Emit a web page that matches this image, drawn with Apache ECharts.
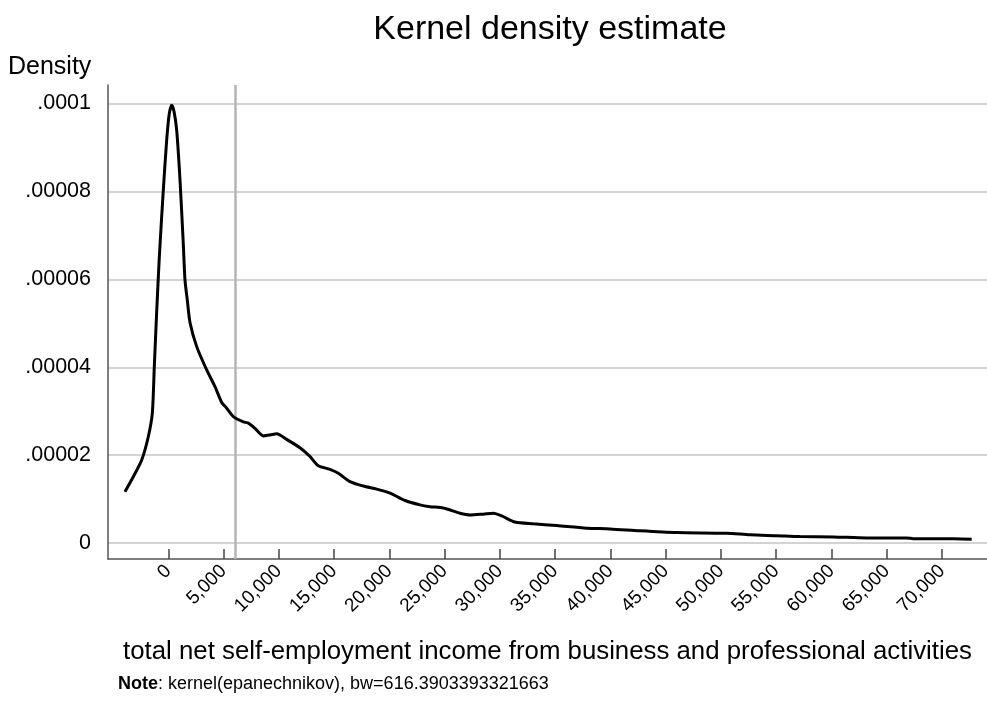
<!DOCTYPE html>
<html>
<head>
<meta charset="utf-8">
<script src="https://cdn.jsdelivr.net/npm/echarts@6/dist/echarts.min.js"></script>
<style>html,body{margin:0;padding:0;background:#fff;}#c{width:987px;height:705px;}</style>
</head>
<body>
<div id="c"></div>
<script>
// Data
const incomeX = [-3920,-3167,-2407,-1810,-1448,-1267,-1050,-814,-452,-145,90,308,516,760,1059,1357,1511,1719,1963,2570,3474,4225,4832,5280,5881,6786,7238,7845,8596,9200,9808,10713,11916,12821,13572,14631,15382,16440,17643,18855,20059,21416,22773,23678,24882,26393,27298,28501,29406,30166,31369,33025,35142,37857,39965,42680,45999,50524,52631,55047,57157,60170,63190,66810,67400,71027,72690];
const densityY = [1.17e-5,1.51e-5,1.89e-5,2.42e-5,2.95e-5,4.01e-5,5.27e-5,6.5e-5,8.03e-5,9.17e-5,9.77e-5,9.96e-5,9.82e-5,9.39e-5,8.26e-5,6.8e-5,5.98e-5,5.53e-5,5.02e-5,4.47e-5,3.94e-5,3.56e-5,3.2e-5,3.07e-5,2.88e-5,2.76e-5,2.73e-5,2.61e-5,2.44e-5,2.46e-5,2.49e-5,2.36e-5,2.17e-5,1.97e-5,1.76e-5,1.68e-5,1.59e-5,1.40e-5,1.30e-5,1.23e-5,1.14e-5,0.97e-5,0.87e-5,0.83e-5,0.80e-5,0.68e-5,0.64e-5,0.66e-5,0.68e-5,0.62e-5,0.48e-5,0.44e-5,0.40e-5,0.34e-5,0.325e-5,0.28e-5,0.24e-5,0.227e-5,0.19e-5,0.17e-5,0.15e-5,0.143e-5,0.12e-5,0.12e-5,0.10e-5,0.098e-5,0.09e-5];
const xTickValues = [0,5000,10000,15000,20000,25000,30000,35000,40000,45000,50000,55000,60000,65000,70000];
const xTickLabels = ["0","5,000","10,000","15,000","20,000","25,000","30,000","35,000","40,000","45,000","50,000","55,000","60,000","65,000","70,000"];
const yTickValues = [0,0.00002,0.00004,0.00006,0.00008,0.0001];
const yTickLabels = ["0",".00002",".00004",".00006",".00008",".0001"];
const refLineX = [6035];

const font = '"Liberation Sans", Arial, sans-serif';
const chart = echarts.init(document.getElementById('c'), null, {renderer: 'canvas'});
const pts = incomeX.map((x, i) => [x, densityY[i]]);
chart.setOption({
  animation: false,
  backgroundColor: '#fff',
  title: {
    text: 'Kernel density estimate',
    left: 545, top: 8, textAlign: 'center',
    textStyle: {fontFamily: font, fontSize: 34, fontWeight: 'normal', color: '#000'}
  },
  grid: {left: 108, right: 0, top: 85, bottom: 146},
  xAxis: {
    type: 'value',
    min: -5456, max: 74075,
    name: 'total net self-employment income from business and professional activities',
    nameLocation: 'middle', nameGap: 80,
    nameTextStyle: {fontFamily: font, fontSize: 25.8, color: '#000'},
    axisLine: {show: true, onZero: false, lineStyle: {color: '#555', width: 1.5}},
    axisTick: {show: true, inside: true, length: 10, customValues: xTickValues, lineStyle: {color: '#444', width: 1.5}},
    axisLabel: {
      customValues: xTickValues,
      rotate: 45, margin: 9,
      fontFamily: font, fontSize: 19, color: '#000',
      formatter: v => xTickLabels[xTickValues.indexOf(v)]
    },
    splitLine: {show: false}
  },
  yAxis: {
    type: 'value',
    min: -0.0000036, max: 0.0001042,
    axisLine: {show: true, onZero: false, lineStyle: {color: '#555', width: 1.5}},
    axisTick: {show: false, customValues: yTickValues},
    axisLabel: {
      customValues: yTickValues,
      margin: 17,
      fontFamily: font, fontSize: 21.5, color: '#000',
      formatter: v => { const i = yTickValues.findIndex(t => Math.abs(t - v) < 1e-9); return i >= 0 ? yTickLabels[i] : ''; }
    },
    splitLine: {show: true, lineStyle: {color: '#d3d3d3', width: 2}}
  },
  graphic: [
    {type: 'text', left: 8, top: 55, style: {text: 'Density', fontFamily: font, fontSize: 25, fill: '#000'}},
    {type: 'text', left: 118, top: 675, style: {
      text: '{b|Note}: kernel(epanechnikov), bw=616.3903393321663',
      fontFamily: font, fontSize: 18, fill: '#000',
      rich: {b: {fontFamily: font, fontSize: 18, fontWeight: 'bold', fill: '#000'}}
    }}
  ],
  series: [{
    type: 'line',
    data: pts,
    showSymbol: false,
    smooth: 0.25,
    lineStyle: {color: '#000', width: 3},
    markLine: {
      silent: true, symbol: 'none', label: {show: false},
      lineStyle: {color: '#b4b4b4', width: 2.5, type: 'solid'},
      data: refLineX.map(v => ({xAxis: v}))
    },
    z: 5
  }]
});
</script>
</body>
</html>
